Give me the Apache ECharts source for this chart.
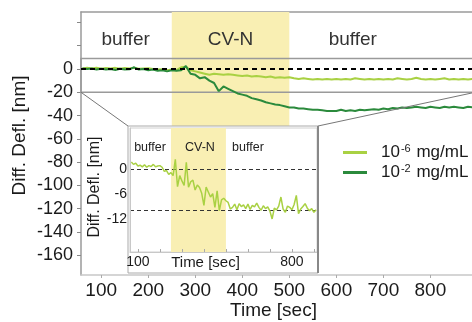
<!DOCTYPE html>
<html>
<head>
<meta charset="utf-8">
<script src="https://cdn.jsdelivr.net/npm/echarts@6/dist/echarts.min.js"></script>
<style>
  html, body { margin: 0; padding: 0; background: #fff; }
  #chart { width: 472px; height: 322px; }
</style>
</head>
<body>
<div id="chart"></div>
<script>
// main trace times [sec]
var mainTime = [60, 70, 80, 90, 100, 110, 120, 130, 140, 150, 160, 170, 180, 190, 200, 210, 220, 230, 240, 250,
  260, 270, 280, 290, 300, 310, 320, 330, 340, 350, 360, 370, 380, 390, 400, 410, 420, 430, 440, 450,
  460, 470, 480, 490, 500, 510, 520, 530, 540, 550, 560, 570, 580, 590, 600, 610, 620, 630, 640, 650,
  660, 670, 680, 690, 700, 710, 720, 730, 740, 750, 760, 770, 780, 790, 800, 810, 820, 830, 840, 850,
  860, 870, 880, 890, 900, 910, 920, 930];
// 10^-6 mg/mL
var lowConc = [0.5, 1, 0.5, 1, 0.3, 0.8, 0.5, 1, 0.2, 0.8, 0.4, 1, 0.3, 0.5, 0.6, 0, -0.5, -0.3, -1, -0.5,
  -1, 1.5, 2, -1, -2, -3, -4, -5, -4, -4.5, -5, -4.5, -5, -5.5, -6, -5.5, -6.5, -6, -6.5, -7,
  -6.5, -7.5, -7, -7.5, -7, -8, -8.5, -8, -8.5, -9, -8.5, -9, -8.5, -9, -8.5, -9, -8.5, -9, -8, -8.5,
  -9, -8.5, -9, -8.5, -9, -8.5, -9, -8, -8.5, -9, -8.5, -7.5, -8.5, -9, -8.5, -9, -8.5, -8, -9, -8.5,
  -9, -8.5, -9, -8.5, -9, -8.5, -9, -8.5];
// 10^-2 mg/mL
var highConc = [0.5, 0, 0.5, -0.5, 0.3, -0.5, 0, -0.8, 0.2, -0.5, -0.3, 1.5, -0.5, 0, -1, -0.5, -1.5, -1, -2, -1,
  -1.5, -1, 2.5, -4, -5, -8, -7, -10, -12, -19, -15, -17, -19, -21, -22, -23, -25, -26, -27, -28.5,
  -29.5, -30.5, -31, -32, -33, -33, -34, -34, -34.5, -35, -35, -35.5, -36, -36, -36, -35, -36, -35.5, -36, -35,
  -35.5, -35, -34.5, -35, -34, -34.5, -33.5, -34, -33, -33.5, -33, -32.5, -33, -33.5, -32.5, -33, -33.5, -32.5, -33, -32.5,
  -33, -33.5, -32.5, -33, -33.5, -32.5, -33, -33];

// inset trace (10^-6 mg/mL, enlarged)
var insetTime = [70, 80, 90, 100, 110, 120, 130, 140, 150, 160, 170, 180, 190, 200, 210, 220, 230, 240, 250, 260,
  270, 280, 290, 300, 310, 320, 330, 340, 350, 360, 370, 380, 390, 400, 410, 420, 430, 440, 450, 460,
  470, 480, 490, 500, 510, 520, 530, 540, 550, 560, 570, 580, 590, 600, 610, 620, 630, 640, 650, 660,
  670, 680, 690, 700, 710, 720, 730, 740, 750, 760, 770, 780, 790, 800, 810, 820, 830, 840, 850, 860,
  870, 880, 890, 900, 910];
var insetDefl = [1.8, 1.2, 1.5, 0.8, 1.0, 0.6, 1.1, 0.5, 0.9, 0.7, 1.2, 0.6, 0.8, 0.9, 0.5, -0.5, -0.3, -1.2, -0.8, -1.5,
  2.4, -4.2, -1.5, -2.8, -3.9, 1.7, -4.3, -3.0, -2.6, -5.0, -3.8, -4.4, -5.8, -8.7, -4.3, -5.5, -6.7, -5.9, -9.2, -5.2,
  -10.0, -7.4, -7.0, -7.6, -8.0, -9.6, -9.2, -8.4, -9.8, -8.3, -9.0, -8.6, -9.5, -8.4, -9.7, -8.7, -9.1, -8.2, -9.2, -9.9,
  -8.8, -9.5, -9.1, -10.1, -12.0, -9.4, -9.8, -8.9, -6.7, -9.6, -10.4, -8.9, -9.2, -9.8, -8.5, -6.3, -10.7, -9.6, -9.0, -8.3,
  -9.4, -10.0, -9.5, -10.4, -9.8];

// phases
var cvnStart = 250, cvnEnd = 500;
var phaseLabels = ['buffer', 'CV-N', 'buffer'];
var phaseLabelTime = [152, 375, 635];
var insetLabelTime = [155, 382, 600];

// axes
var xMin = 57, xMax = 931;
var yMin = -177, yMax = 49;
var xTicks = [100, 200, 300, 400, 500, 600, 700, 800, 900];
var xLabels = [100, 200, 300, 400, 500, 600, 700, 800];
var yTicks = [40, 20, 0, -20, -40, -60, -80, -100, -120, -140, -160];
var yLabels = [0, -20, -40, -60, -80, -100, -120, -140, -160];
var zoomLow = -20, zoomHigh = 9;

var insetXMin = 64, insetXMax = 914;
var insetYMin = -20, insetYMax = 10;
var insetXTicks = [100, 200, 300, 400, 500, 600, 700, 800, 900];
var insetXLabels = [100, 800];
var insetYLabels = [0, -6, -12];
var insetZero = 0, insetPlateau = -10;

var light = '#a9d143';
var dark = '#2b8a3c';
var band = '#f9efb3';
var ink = '#1a1a1a';
var boxGray = '#9a9a9a';
var font = '"Liberation Sans", Arial, sans-serif';

function pairs(t, v) {
  return t.map(function(x, i) { return [x, v[i]]; });
}

var chart = echarts.init(document.getElementById('chart'), null, { renderer: 'canvas' });

var insetDash = { color: '#333', type: [4, 3], width: 1 };

chart.setOption({
  animation: false,
  textStyle: { fontFamily: font },
  grid: [
    { left: 81, top: 12, right: -20, bottom: 47, outerBoundsMode: 'none' },
    { left: 130, top: 128, width: 187, height: 124, show: true, backgroundColor: '#fff',
      borderColor: '#d0d0d0', borderWidth: 1, z: 55, outerBoundsMode: 'none' }
  ],
  legend: {
    left: 338, top: 138, orient: 'vertical', itemGap: 2,
    icon: 'rect', itemWidth: 24, itemHeight: 3,
    data: ['low', 'high'],
    formatter: function(n) {
      return n === 'low' ? '{a|10}{s|-6}{a| mg/mL}' : '{a|10}{s|-2}{a| mg/mL}';
    },
    textStyle: {
      padding: [0, 0, 0, 9],
      rich: {
        a: { fontSize: 17, color: ink, fontFamily: font, lineHeight: 19 },
        s: { fontSize: 11, color: ink, fontFamily: font, verticalAlign: 'top', padding: [0, 1, 7, 1] }
      }
    }
  },
  xAxis: [
    {
      type: 'value', gridIndex: 0, min: xMin, max: xMax,
      name: 'Time [sec]', nameLocation: 'middle', nameGap: 26, nameMoveOverlap: false,
      nameTextStyle: { fontSize: 19, color: ink, padding: [0, 26, 0, 0] },
      axisLine: { onZero: false, lineStyle: { color: '#c8c8c8', width: 1.5 } },
      axisTick: { customValues: xTicks, length: 3, lineStyle: { color: '#aaa' } },
      axisLabel: { customValues: xLabels, fontSize: 19, color: ink, margin: 6 },
      splitLine: { show: false }
    },
    {
      type: 'value', gridIndex: 0, min: xMin, max: xMax, position: 'top',
      axisLine: { show: true, onZero: false, lineStyle: { color: boxGray, width: 1.5 } },
      axisTick: { show: false }, axisLabel: { show: false }, splitLine: { show: false }
    },
    {
      type: 'value', gridIndex: 1, min: insetXMin, max: insetXMax, z: 60,
      name: 'Time [sec]', nameLocation: 'middle', nameGap: 3, nameMoveOverlap: false,
      nameTextStyle: { fontSize: 15, color: ink, padding: [0, 36, 0, 0], verticalAlign: 'top' },
      axisLine: { onZero: false, lineStyle: { color: '#c8c8c8' } },
      axisTick: { customValues: insetXTicks, inside: true, length: 3, lineStyle: { color: '#aaa' } },
      axisLabel: { customValues: insetXLabels, fontSize: 14, color: ink, margin: 3 },
      splitLine: { show: false }
    }
  ],
  yAxis: [
    {
      type: 'value', gridIndex: 0, min: yMin, max: yMax,
      name: 'Diff. Defl. [nm]', nameLocation: 'middle', nameGap: 52, nameMoveOverlap: false,
      nameTextStyle: { fontSize: 19, color: ink, padding: [0, 0, 0, 16] },
      axisLine: { show: true, onZero: false, lineStyle: { color: boxGray, width: 1.5 } },
      axisTick: { show: true, customValues: yTicks, length: 4, lineStyle: { color: '#888' } },
      axisLabel: { customValues: yLabels, fontSize: 18, color: ink, margin: 8 },
      splitLine: { show: false }
    },
    {
      type: 'value', gridIndex: 1, min: insetYMin, max: insetYMax, z: 60,
      name: 'Diff. Defl. [nm]', nameLocation: 'middle', nameGap: 27, nameMoveOverlap: false,
      nameTextStyle: { fontSize: 16, color: ink, padding: [0, 0, 0, 6] },
      axisLine: { show: true, onZero: false, lineStyle: { color: '#c8c8c8' } },
      axisTick: { show: false },
      axisLabel: { customValues: insetYLabels, fontSize: 14, color: ink, margin: 3 },
      splitLine: { show: false }
    }
  ],
  series: [
    {
      name: 'bands', type: 'line', xAxisIndex: 0, yAxisIndex: 0, data: [], z: 1,
      markArea: {
        silent: true, z: 1,
        itemStyle: { color: band },
        data: [[{ xAxis: cvnStart, yAxis: yMin }, { xAxis: cvnEnd, yAxis: yMax }]]
      }
    },
    {
      name: 'zoombox', type: 'line', xAxisIndex: 0, yAxisIndex: 0, data: [], z: 3,
      markArea: {
        silent: true, z: 2,
        itemStyle: { color: 'rgba(0,0,0,0)', borderColor: boxGray, borderWidth: 1.5 },
        data: [[{ xAxis: xMin, yAxis: zoomLow }, { xAxis: 920, yAxis: zoomHigh }]]
      },
      markLine: {
        silent: true, symbol: 'none', label: { show: false }, z: 5,
        lineStyle: { color: '#000', type: [5, 4], width: 2 },
        data: [{ yAxis: 0 }]
      }
    },
    {
      name: 'low', type: 'line', xAxisIndex: 0, yAxisIndex: 0, z: 4,
      data: pairs(mainTime, lowConc), showSymbol: false,
      lineStyle: { color: light, width: 2 }, itemStyle: { color: light }
    },
    {
      name: 'high', type: 'line', xAxisIndex: 0, yAxisIndex: 0, z: 4,
      data: pairs(mainTime, highConc), showSymbol: false,
      lineStyle: { color: dark, width: 2 }, itemStyle: { color: dark }
    },
    {
      name: 'insetBand', type: 'line', xAxisIndex: 2, yAxisIndex: 1, data: [], z: 58,
      markArea: {
        silent: true, z: 58,
        itemStyle: { color: band },
        data: [[{ xAxis: cvnStart, yAxis: insetYMin }, { xAxis: cvnEnd, yAxis: insetYMax }]]
      },
      markLine: {
        silent: true, symbol: 'none', label: { show: false }, z: 59,
        lineStyle: insetDash,
        data: [{ yAxis: insetZero }]
      }
    },
    {
      name: 'inset', type: 'line', xAxisIndex: 2, yAxisIndex: 1, z: 60,
      data: pairs(insetTime, insetDefl), showSymbol: false,
      lineStyle: { color: light, width: 1.5 }, itemStyle: { color: light },
      markLine: {
        silent: true, symbol: 'none', label: { show: false }, z: 59,
        lineStyle: insetDash,
        data: [{ yAxis: insetPlateau }]
      }
    }
  ]
});

// decorations placed from axis positions
var p = function(x, y) { return chart.convertToPixel({ xAxisIndex: 0, yAxisIndex: 0 }, [x, y]); };
var q = function(x, y) { return chart.convertToPixel({ xAxisIndex: 2, yAxisIndex: 1 }, [x, y]); };
var pInv = function(px, py) { return chart.convertFromPixel({ xAxisIndex: 0, yAxisIndex: 0 }, [px, py]); };

var insetTL = q(insetXMin, insetYMax);
var insetBR = q(insetXMax, insetYMin);
var mainBottom = p(xMin, yMin)[1];
var boxL = insetTL[0] - 2, boxT = insetTL[1] - 2, boxR = insetBR[0] + 1, boxB = mainBottom - 2;
var zl = p(xMin, zoomLow), zr = p(895, zoomLow);
// the inset hides the lower part of the CV-N band
var bandBottom = pInv(0, boxT)[1];

var graphics = [
  { type: 'line', z: 50, shape: { x1: zl[0], y1: zl[1], x2: boxL, y2: boxT }, style: { stroke: '#777', lineWidth: 1 } },
  { type: 'line', z: 50, shape: { x1: zr[0], y1: zr[1], x2: boxR, y2: boxT }, style: { stroke: '#777', lineWidth: 1 } },
  { type: 'rect', z: 52, shape: { x: boxL, y: boxT, width: boxR - boxL, height: boxB - boxT },
    style: { fill: '#fff', stroke: '#aaa', lineWidth: 1 } },
  { type: 'line', z: 70, shape: { x1: boxR, y1: boxT, x2: boxR, y2: boxB }, style: { stroke: '#888', lineWidth: 2 } }
];
phaseLabels.forEach(function(txt, i) {
  var a = p(phaseLabelTime[i], 25);
  graphics.push({ type: 'text', z: 5, x: a[0], y: a[1],
    style: { text: txt, font: '19px ' + font, fill: '#333', align: 'center', verticalAlign: 'middle' } });
  var b = q(insetLabelTime[i], 5.3);
  graphics.push({ type: 'text', z: 70, x: b[0], y: b[1],
    style: { text: txt, font: '12.5px ' + font, fill: '#222', align: 'center', verticalAlign: 'middle' } });
});
chart.setOption({
  series: [{ name: 'bands', markArea: { data: [[{ xAxis: cvnStart, yAxis: bandBottom }, { xAxis: cvnEnd, yAxis: yMax }]] } }],
  graphic: graphics
});
</script>
</body>
</html>
